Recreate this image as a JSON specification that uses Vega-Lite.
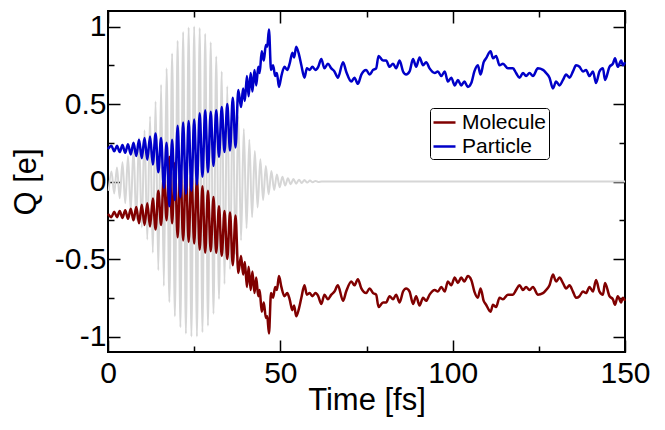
{
  "$schema": "https://vega.github.io/schema/vega-lite/v6.json",
  "width": 517,
  "height": 341,
  "autosize": "none",
  "padding": {"left": 108, "top": 11, "right": 40, "bottom": 78},
  "background": "white",
  "config": {
    "font": "Liberation Sans",
    "view": {"stroke": "black", "strokeWidth": 2},
    "axis": {
      "domain": false,
      "grid": false,
      "tickColor": "black",
      "tickWidth": 1.5,
      "labelColor": "black",
      "titleColor": "black",
      "labelFontSize": 30,
      "titleFontSize": 31,
      "titleFontWeight": "normal",
      "labelFlush": false,
      "labelOverlap": false
    }
  },
  "datasets": {
    "field": [
      {"t": 0.2, "e": -0.06}, {"t": 1.0, "e": 0.065}, {"t": 1.8, "e": -0.077}, {"t": 2.6, "e": 0.09},
      {"t": 3.4, "e": -0.108}, {"t": 4.2, "e": 0.124}, {"t": 5.0, "e": -0.14}, {"t": 5.8, "e": 0.164},
      {"t": 6.6, "e": -0.188}, {"t": 7.4, "e": 0.216}, {"t": 8.2, "e": -0.248}, {"t": 9.0, "e": 0.28},
      {"t": 9.8, "e": -0.296}, {"t": 10.6, "e": 0.33}, {"t": 11.4, "e": -0.374}, {"t": 12.2, "e": 0.42},
      {"t": 13.0, "e": -0.46}, {"t": 13.8, "e": 0.516}, {"t": 14.6, "e": -0.572}, {"t": 15.4, "e": 0.624},
      {"t": 16.2, "e": -0.674}, {"t": 17.0, "e": 0.73}, {"t": 17.8, "e": -0.778}, {"t": 18.6, "e": 0.826},
      {"t": 19.4, "e": -0.87}, {"t": 20.2, "e": 0.908}, {"t": 21.0, "e": -0.94}, {"t": 21.8, "e": 0.964},
      {"t": 22.6, "e": -0.982}, {"t": 23.4, "e": 0.994}, {"t": 24.2, "e": -1.0}, {"t": 25.0, "e": 1.0},
      {"t": 25.8, "e": -1.0}, {"t": 26.6, "e": 0.99}, {"t": 27.4, "e": -0.972}, {"t": 28.2, "e": 0.954},
      {"t": 29.0, "e": -0.93}, {"t": 29.8, "e": 0.898}, {"t": 30.6, "e": -0.854}, {"t": 31.4, "e": 0.806},
      {"t": 32.2, "e": -0.758}, {"t": 33.0, "e": 0.71}, {"t": 33.8, "e": -0.662}, {"t": 34.6, "e": 0.614},
      {"t": 35.4, "e": -0.566}, {"t": 36.2, "e": 0.518}, {"t": 37.0, "e": -0.47}, {"t": 37.8, "e": 0.422},
      {"t": 38.6, "e": -0.38}, {"t": 39.4, "e": 0.34}, {"t": 40.2, "e": -0.302}, {"t": 41.0, "e": 0.27},
      {"t": 41.8, "e": -0.23}, {"t": 42.6, "e": 0.196}, {"t": 43.4, "e": -0.168}, {"t": 44.2, "e": 0.144},
      {"t": 45.0, "e": -0.12}, {"t": 45.8, "e": 0.1}, {"t": 46.6, "e": -0.083}, {"t": 47.4, "e": 0.068},
      {"t": 48.2, "e": -0.055}, {"t": 49.0, "e": 0.045}, {"t": 49.8, "e": -0.037}, {"t": 50.6, "e": 0.031},
      {"t": 51.4, "e": -0.026}, {"t": 52.2, "e": 0.021}, {"t": 53.0, "e": -0.018}, {"t": 53.8, "e": 0.016},
      {"t": 54.6, "e": -0.014}, {"t": 55.4, "e": 0.012}, {"t": 56.2, "e": -0.01}, {"t": 57.0, "e": 0.009},
      {"t": 57.8, "e": -0.007}, {"t": 58.6, "e": 0.006}, {"t": 59.4, "e": -0.005}, {"t": 60.2, "e": 0.004},
      {"t": 61.0, "e": -0.003}, {"t": 62.0, "e": 0.0}, {"t": 150.0, "e": 0.0}
    ],
    "charge": [
      {"t": 0.0, "Particle": 0.21, "Molecule": -0.21},
      {"t": 1.0, "Particle": 0.23, "Molecule": -0.23},
      {"t": 1.8, "Particle": 0.195, "Molecule": -0.195},
      {"t": 2.6, "Particle": 0.23, "Molecule": -0.23},
      {"t": 3.4, "Particle": 0.19, "Molecule": -0.19},
      {"t": 4.2, "Particle": 0.235, "Molecule": -0.235},
      {"t": 5.0, "Particle": 0.185, "Molecule": -0.185},
      {"t": 5.8, "Particle": 0.24, "Molecule": -0.24},
      {"t": 6.6, "Particle": 0.175, "Molecule": -0.175},
      {"t": 7.4, "Particle": 0.25, "Molecule": -0.25},
      {"t": 8.2, "Particle": 0.165, "Molecule": -0.165},
      {"t": 9.0, "Particle": 0.27, "Molecule": -0.27},
      {"t": 9.8, "Particle": 0.15, "Molecule": -0.15},
      {"t": 10.6, "Particle": 0.28, "Molecule": -0.28},
      {"t": 11.4, "Particle": 0.14, "Molecule": -0.14},
      {"t": 12.2, "Particle": 0.29, "Molecule": -0.29},
      {"t": 13.0, "Particle": 0.11, "Molecule": -0.11},
      {"t": 13.8, "Particle": 0.31, "Molecule": -0.31},
      {"t": 14.6, "Particle": 0.06, "Molecule": -0.06},
      {"t": 15.4, "Particle": 0.28, "Molecule": -0.28},
      {"t": 16.2, "Particle": -0.04, "Molecule": 0.04},
      {"t": 17.0, "Particle": 0.25, "Molecule": -0.25},
      {"t": 17.8, "Particle": -0.16, "Molecule": 0.16},
      {"t": 18.6, "Particle": 0.27, "Molecule": -0.27},
      {"t": 19.4, "Particle": -0.12, "Molecule": 0.12},
      {"t": 20.2, "Particle": 0.36, "Molecule": -0.36},
      {"t": 21.0, "Particle": -0.1, "Molecule": 0.1},
      {"t": 21.8, "Particle": 0.38, "Molecule": -0.38},
      {"t": 22.6, "Particle": -0.08, "Molecule": 0.08},
      {"t": 23.4, "Particle": 0.39, "Molecule": -0.39},
      {"t": 24.2, "Particle": -0.06, "Molecule": 0.06},
      {"t": 25.0, "Particle": 0.4, "Molecule": -0.4},
      {"t": 25.8, "Particle": -0.02, "Molecule": 0.02},
      {"t": 26.6, "Particle": 0.44, "Molecule": -0.44},
      {"t": 27.4, "Particle": 0.03, "Molecule": -0.03},
      {"t": 28.2, "Particle": 0.46, "Molecule": -0.46},
      {"t": 29.0, "Particle": 0.06, "Molecule": -0.06},
      {"t": 29.8, "Particle": 0.45, "Molecule": -0.45},
      {"t": 30.6, "Particle": 0.1, "Molecule": -0.1},
      {"t": 31.4, "Particle": 0.46, "Molecule": -0.46},
      {"t": 32.2, "Particle": 0.16, "Molecule": -0.16},
      {"t": 33.0, "Particle": 0.48, "Molecule": -0.48},
      {"t": 33.8, "Particle": 0.19, "Molecule": -0.19},
      {"t": 34.6, "Particle": 0.5, "Molecule": -0.5},
      {"t": 35.4, "Particle": 0.2, "Molecule": -0.2},
      {"t": 36.2, "Particle": 0.54, "Molecule": -0.54},
      {"t": 37.0, "Particle": 0.22, "Molecule": -0.22},
      {"t": 37.8, "Particle": 0.59, "Molecule": -0.59},
      {"t": 38.6, "Particle": 0.48, "Molecule": -0.48},
      {"t": 39.2, "Particle": 0.6, "Molecule": -0.6},
      {"t": 39.7, "Particle": 0.52, "Molecule": -0.52},
      {"t": 40.3, "Particle": 0.68, "Molecule": -0.68},
      {"t": 40.8, "Particle": 0.55, "Molecule": -0.55},
      {"t": 41.4, "Particle": 0.7, "Molecule": -0.7},
      {"t": 41.9, "Particle": 0.58, "Molecule": -0.58},
      {"t": 42.5, "Particle": 0.72, "Molecule": -0.72},
      {"t": 43.0, "Particle": 0.62, "Molecule": -0.62},
      {"t": 43.6, "Particle": 0.74, "Molecule": -0.74},
      {"t": 44.0, "Particle": 0.7, "Molecule": -0.7},
      {"t": 44.6, "Particle": 0.84, "Molecule": -0.84},
      {"t": 45.2, "Particle": 0.78, "Molecule": -0.78},
      {"t": 45.8, "Particle": 0.88, "Molecule": -0.88},
      {"t": 46.2, "Particle": 0.87, "Molecule": -0.87},
      {"t": 46.7, "Particle": 0.98, "Molecule": -0.98},
      {"t": 47.3, "Particle": 0.72, "Molecule": -0.72},
      {"t": 47.9, "Particle": 0.75, "Molecule": -0.75},
      {"t": 48.5, "Particle": 0.68, "Molecule": -0.68},
      {"t": 49.0, "Particle": 0.7, "Molecule": -0.7},
      {"t": 49.6, "Particle": 0.61, "Molecule": -0.61},
      {"t": 50.3, "Particle": 0.68, "Molecule": -0.68},
      {"t": 51.2, "Particle": 0.74, "Molecule": -0.74},
      {"t": 52.0, "Particle": 0.72, "Molecule": -0.72},
      {"t": 52.7, "Particle": 0.76, "Molecule": -0.76},
      {"t": 53.5, "Particle": 0.83, "Molecule": -0.83},
      {"t": 54.0, "Particle": 0.8, "Molecule": -0.8},
      {"t": 54.6, "Particle": 0.87, "Molecule": -0.87},
      {"t": 55.4, "Particle": 0.82, "Molecule": -0.82},
      {"t": 56.1, "Particle": 0.75, "Molecule": -0.75},
      {"t": 57.0, "Particle": 0.67, "Molecule": -0.67},
      {"t": 57.7, "Particle": 0.73, "Molecule": -0.73},
      {"t": 58.5, "Particle": 0.72, "Molecule": -0.72},
      {"t": 59.3, "Particle": 0.74, "Molecule": -0.74},
      {"t": 60.2, "Particle": 0.72, "Molecule": -0.72},
      {"t": 61.0, "Particle": 0.74, "Molecule": -0.74},
      {"t": 61.9, "Particle": 0.79, "Molecule": -0.79},
      {"t": 62.8, "Particle": 0.73, "Molecule": -0.73},
      {"t": 63.8, "Particle": 0.76, "Molecule": -0.76},
      {"t": 64.8, "Particle": 0.73, "Molecule": -0.73},
      {"t": 65.7, "Particle": 0.71, "Molecule": -0.71},
      {"t": 66.7, "Particle": 0.67, "Molecule": -0.67},
      {"t": 68.2, "Particle": 0.77, "Molecule": -0.77},
      {"t": 69.1, "Particle": 0.71, "Molecule": -0.71},
      {"t": 70.6, "Particle": 0.645, "Molecule": -0.645},
      {"t": 71.5, "Particle": 0.67, "Molecule": -0.67},
      {"t": 72.5, "Particle": 0.63, "Molecule": -0.63},
      {"t": 73.5, "Particle": 0.69, "Molecule": -0.69},
      {"t": 74.9, "Particle": 0.72, "Molecule": -0.72},
      {"t": 75.9, "Particle": 0.69, "Molecule": -0.69},
      {"t": 76.9, "Particle": 0.72, "Molecule": -0.72},
      {"t": 77.8, "Particle": 0.73, "Molecule": -0.73},
      {"t": 78.5, "Particle": 0.81, "Molecule": -0.81},
      {"t": 79.8, "Particle": 0.78, "Molecule": -0.78},
      {"t": 80.7, "Particle": 0.78, "Molecule": -0.78},
      {"t": 81.7, "Particle": 0.74, "Molecule": -0.74},
      {"t": 82.7, "Particle": 0.76, "Molecule": -0.76},
      {"t": 83.6, "Particle": 0.73, "Molecule": -0.73},
      {"t": 84.6, "Particle": 0.78, "Molecule": -0.78},
      {"t": 85.6, "Particle": 0.71, "Molecule": -0.71},
      {"t": 86.5, "Particle": 0.69, "Molecule": -0.69},
      {"t": 87.5, "Particle": 0.71, "Molecule": -0.71},
      {"t": 88.5, "Particle": 0.79, "Molecule": -0.79},
      {"t": 89.4, "Particle": 0.74, "Molecule": -0.74},
      {"t": 90.4, "Particle": 0.8, "Molecule": -0.8},
      {"t": 91.4, "Particle": 0.75, "Molecule": -0.75},
      {"t": 92.3, "Particle": 0.77, "Molecule": -0.77},
      {"t": 93.3, "Particle": 0.73, "Molecule": -0.73},
      {"t": 94.8, "Particle": 0.7, "Molecule": -0.7},
      {"t": 95.7, "Particle": 0.71, "Molecule": -0.71},
      {"t": 96.7, "Particle": 0.68, "Molecule": -0.68},
      {"t": 97.7, "Particle": 0.71, "Molecule": -0.71},
      {"t": 98.6, "Particle": 0.645, "Molecule": -0.645},
      {"t": 99.6, "Particle": 0.67, "Molecule": -0.67},
      {"t": 100.6, "Particle": 0.62, "Molecule": -0.62},
      {"t": 101.5, "Particle": 0.655, "Molecule": -0.655},
      {"t": 102.5, "Particle": 0.62, "Molecule": -0.62},
      {"t": 103.4, "Particle": 0.645, "Molecule": -0.645},
      {"t": 104.4, "Particle": 0.61, "Molecule": -0.61},
      {"t": 105.4, "Particle": 0.635, "Molecule": -0.635},
      {"t": 106.3, "Particle": 0.71, "Molecule": -0.71},
      {"t": 107.3, "Particle": 0.75, "Molecule": -0.75},
      {"t": 108.1, "Particle": 0.69, "Molecule": -0.69},
      {"t": 109.0, "Particle": 0.77, "Molecule": -0.77},
      {"t": 109.7, "Particle": 0.795, "Molecule": -0.795},
      {"t": 111.0, "Particle": 0.84, "Molecule": -0.84},
      {"t": 111.7, "Particle": 0.795, "Molecule": -0.795},
      {"t": 112.6, "Particle": 0.81, "Molecule": -0.81},
      {"t": 113.6, "Particle": 0.75, "Molecule": -0.75},
      {"t": 114.6, "Particle": 0.76, "Molecule": -0.76},
      {"t": 116.0, "Particle": 0.73, "Molecule": -0.73},
      {"t": 117.5, "Particle": 0.73, "Molecule": -0.73},
      {"t": 118.4, "Particle": 0.7, "Molecule": -0.7},
      {"t": 119.4, "Particle": 0.67, "Molecule": -0.67},
      {"t": 120.4, "Particle": 0.7, "Molecule": -0.7},
      {"t": 121.3, "Particle": 0.68, "Molecule": -0.68},
      {"t": 122.3, "Particle": 0.7, "Molecule": -0.7},
      {"t": 123.3, "Particle": 0.68, "Molecule": -0.68},
      {"t": 124.7, "Particle": 0.73, "Molecule": -0.73},
      {"t": 126.2, "Particle": 0.72, "Molecule": -0.72},
      {"t": 127.1, "Particle": 0.7, "Molecule": -0.7},
      {"t": 128.1, "Particle": 0.67, "Molecule": -0.67},
      {"t": 129.1, "Particle": 0.6, "Molecule": -0.6},
      {"t": 130.0, "Particle": 0.645, "Molecule": -0.645},
      {"t": 131.0, "Particle": 0.62, "Molecule": -0.62},
      {"t": 132.0, "Particle": 0.655, "Molecule": -0.655},
      {"t": 132.9, "Particle": 0.69, "Molecule": -0.69},
      {"t": 133.9, "Particle": 0.67, "Molecule": -0.67},
      {"t": 134.9, "Particle": 0.71, "Molecule": -0.71},
      {"t": 135.8, "Particle": 0.75, "Molecule": -0.75},
      {"t": 136.8, "Particle": 0.74, "Molecule": -0.74},
      {"t": 137.8, "Particle": 0.71, "Molecule": -0.71},
      {"t": 138.7, "Particle": 0.72, "Molecule": -0.72},
      {"t": 139.7, "Particle": 0.68, "Molecule": -0.68},
      {"t": 140.7, "Particle": 0.71, "Molecule": -0.71},
      {"t": 141.6, "Particle": 0.635, "Molecule": -0.635},
      {"t": 142.6, "Particle": 0.71, "Molecule": -0.71},
      {"t": 143.6, "Particle": 0.73, "Molecule": -0.73},
      {"t": 144.2, "Particle": 0.655, "Molecule": -0.655},
      {"t": 145.5, "Particle": 0.74, "Molecule": -0.74},
      {"t": 146.5, "Particle": 0.76, "Molecule": -0.76},
      {"t": 147.1, "Particle": 0.795, "Molecule": -0.795},
      {"t": 147.9, "Particle": 0.74, "Molecule": -0.74},
      {"t": 148.9, "Particle": 0.78, "Molecule": -0.78},
      {"t": 149.4, "Particle": 0.75, "Molecule": -0.75},
      {"t": 150.0, "Particle": 0.77, "Molecule": -0.77}
    ]
  },
  "layer": [
    {
      "data": {"name": "field"},
      "mark": {"type": "line", "color": "#d6d6d6", "strokeWidth": 2, "interpolate": "monotone"},
      "encoding": {
        "x": {
          "field": "t",
          "type": "quantitative",
          "scale": {"domain": [0, 150], "nice": false},
          "axis": {
            "orient": "bottom",
            "title": "Time [fs]",
            "values": [0, 25, 50, 75, 100, 125, 150],
            "labelExpr": "datum.value % 50 === 0 ? '' + datum.value : ''",
            "tickSize": {"condition": {"test": "datum.value % 50 === 0", "value": -12}, "value": -6},
            "labelPadding": 18,
            "titlePadding": -9
          }
        },
        "y": {
          "field": "e",
          "type": "quantitative",
          "scale": {"domain": [-1.1, 1.1], "nice": false},
          "axis": {
            "orient": "left",
            "title": "Q [e]",
            "values": [-1, -0.75, -0.5, -0.25, 0, 0.25, 0.5, 0.75, 1],
            "labelExpr": "datum.value % 0.5 === 0 ? '' + datum.value : ''",
            "tickSize": {"condition": {"test": "datum.value % 0.5 === 0", "value": -12}, "value": -6},
            "labelPadding": 14,
            "titlePadding": 12
          }
        }
      }
    },
    {
      "data": {"name": "charge"},
      "transform": [{"fold": ["Molecule", "Particle"], "as": ["series", "q"]}],
      "mark": {"type": "line", "strokeWidth": 2.5, "interpolate": "monotone"},
      "encoding": {
        "x": {
          "field": "t",
          "type": "quantitative",
          "axis": {
            "orient": "top",
            "title": null,
            "labels": false,
            "values": [0, 25, 50, 75, 100, 125, 150],
            "tickSize": {"condition": {"test": "datum.value % 50 === 0", "value": -12}, "value": -6}
          }
        },
        "y": {
          "field": "q",
          "type": "quantitative",
          "axis": {
            "orient": "right",
            "title": null,
            "labels": false,
            "values": [-1, -0.75, -0.5, -0.25, 0, 0.25, 0.5, 0.75, 1],
            "tickSize": {"condition": {"test": "datum.value % 0.5 === 0", "value": -12}, "value": -6}
          }
        },
        "color": {
          "field": "series",
          "type": "nominal",
          "scale": {"domain": ["Molecule", "Particle"], "range": ["#800000", "#0000c8"]},
          "legend": {
            "title": null,
            "orient": "none",
            "legendX": 322,
            "legendY": 97,
            "symbolType": "stroke",
            "symbolSize": 484,
            "symbolStrokeWidth": 2.5,
            "labelFontSize": 21,
            "labelColor": "black",
            "labelOffset": 5,
            "padding": 2,
            "rowPadding": 1,
            "strokeColor": "black",
            "cornerRadius": 3,
            "fillColor": "white"
          }
        }
      }
    }
  ],
  "resolve": {"axis": {"x": "independent", "y": "independent"}}
}
